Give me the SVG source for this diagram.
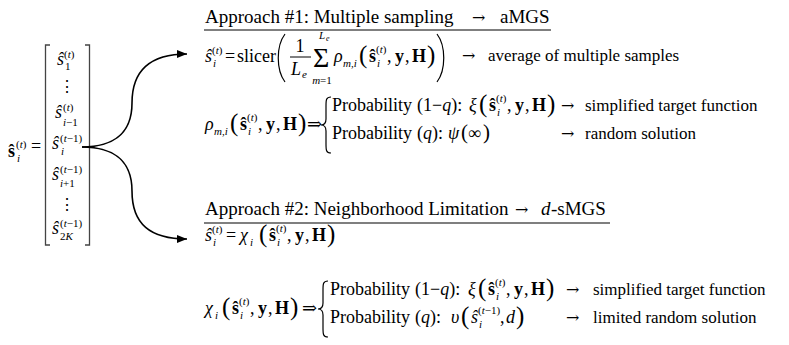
<svg xmlns="http://www.w3.org/2000/svg" width="789" height="345" viewBox="0 0 789 345">
<defs>
<style>
text{font-family:"Liberation Serif","DejaVu Serif",serif;font-size:18px;fill:#000}
.h{font-size:19px}
.d{font-size:17px}
.ar{font-family:"DejaVu Serif",serif;font-size:16px}
.sc{font-size:11px}
.sm{font-size:8px}
.p{font-size:25px}
.sig{font-size:28px}
.it{font-style:italic}
.bf{font-weight:bold}
.ln{stroke:#000;stroke-width:1.2;fill:none}
.br{stroke:#444;stroke-width:1.3;fill:none}
.cn{stroke:#000;stroke-width:1.6;fill:none}
</style>
<marker id="ah" viewBox="0 0 10 8" refX="10" refY="4" markerWidth="10" markerHeight="8" markerUnits="userSpaceOnUse" orient="auto">
<path d="M0,0 L10,4 L0,8 z" fill="#000"/>
</marker>
</defs>

<g id="vector">
<text class="bf" x="8" y="157">ŝ</text>
<text class="sc" x="16" y="148">(<tspan class="it">t</tspan>)</text>
<text class="sc it" x="17" y="162">i</text>
<text x="31" y="152">=</text>
<path class="br" d="M50,45 H45.5 V245 H50"/>
<path class="br" d="M85,45 H89.5 V245 H85"/>
<text class="it" x="57" y="65">ŝ</text>
<text class="sc" x="64" y="58">(<tspan class="it">t</tspan>)</text>
<text class="sc" x="65" y="70">1</text>
<text x="67" y="92" text-anchor="middle" style="font-size:16px">⋮</text>
<text class="it" x="55" y="118">ŝ</text>
<text class="sc" x="63" y="111">(<tspan class="it">t</tspan>)</text>
<text class="sc" x="63" y="126"><tspan class="it">i</tspan>−1</text>
<text class="it" x="52" y="149">ŝ</text>
<text class="sc" x="60" y="142">(<tspan class="it">t</tspan>−1)</text>
<text class="sc it" x="61" y="155">i</text>
<text class="it" x="52" y="180">ŝ</text>
<text class="sc" x="60" y="173">(<tspan class="it">t</tspan>−1)</text>
<text class="sc" x="60" y="187"><tspan class="it">i</tspan>+1</text>
<text x="67" y="210" text-anchor="middle" style="font-size:16px">⋮</text>
<text class="it" x="52" y="234">ŝ</text>
<text class="sc" x="60" y="227">(<tspan class="it">t</tspan>−1)</text>
<text class="sc" x="60" y="240">2<tspan class="it">K</tspan></text>
</g>

<g id="connectors">
<path class="cn" d="M82,147 C110,147 132,136 132,103 C132,70 150,54 187,54" marker-end="url(#ah)"/>
<path class="cn" d="M82,147 C110,147 132,158 132,191 C132,224 150,239 187,239" marker-end="url(#ah)"/>
</g>

<g id="approach1">
<text class="h" x="205" y="23">Approach #1: Multiple sampling</text>
<text class="ar" x="472" y="23">→</text>
<text class="h" x="500" y="23">aMGS</text>
<line class="ln" x1="204" y1="30" x2="551" y2="30"/>

<g id="eq-slicer">
<text class="it" x="205" y="62">ŝ</text>
<text class="sc" x="212" y="54">(<tspan class="it">t</tspan>)</text>
<text class="sc it" x="213" y="67">i</text>
<text x="225" y="62">=</text>
<text x="237" y="62">slicer</text>
<path class="ln" d="M285,34 C276,46 276,70 285,82"/>
<text x="300" y="52" text-anchor="middle">1</text>
<line class="ln" x1="290" y1="57" x2="311" y2="57" style="stroke-width:1"/>
<text class="it" x="291" y="75">L</text>
<text class="sc it" x="302" y="78">e</text>
<text class="sig" x="313" y="67">Σ</text>
<text class="sc it" x="319" y="39">L</text>
<text class="sm it" x="326" y="41">e</text>
<text class="sc" x="322" y="84" text-anchor="middle"><tspan class="it">m</tspan>=1</text>
<text class="it" x="334" y="62">ρ</text>
<text class="sc it" x="343" y="67">m,i</text>
<text class="p" x="359" y="63">(</text>
<text class="bf" x="369" y="62">ŝ</text>
<text class="sc" x="376" y="53">(<tspan class="it">t</tspan>)</text>
<text class="sc it" x="377" y="67">i</text>
<text x="387" y="62">,</text>
<text class="bf" x="395" y="62">y</text>
<text x="405" y="62">,</text>
<text class="bf" x="412" y="62">H</text>
<text class="p" x="427" y="63">)</text>
<path class="ln" d="M437,34 C446,46 446,70 437,82"/>
<text class="ar" x="462" y="61">→</text>
<text class="d" x="488" y="61">average of multiple samples</text>
</g>

<g id="eq-rho">
<text class="it" x="205" y="130">ρ</text>
<text class="sc it" x="214" y="135">m,i</text>
<text class="p" x="230" y="131">(</text>
<text class="bf" x="240" y="130">ŝ</text>
<text class="sc" x="247" y="121">(<tspan class="it">t</tspan>)</text>
<text class="sc it" x="248" y="135">i</text>
<text x="258" y="130">,</text>
<text class="bf" x="266" y="130">y</text>
<text x="276" y="130">,</text>
<text class="bf" x="283" y="130">H</text>
<text class="p" x="298" y="131">)</text>
<text x="307" y="130">⇒</text>
<path class="ln" d="M331,97 C326,97 326,100 326,106 L326,119 C326,123 324,125 321,125 C324,125 326,127 326,131 L326,144 C326,150 326,153 331,153"/>
<text x="332" y="111">Probability</text>
<text x="417" y="111">(1−<tspan class="it">q</tspan>):</text>
<text class="it" x="469" y="111">ξ</text>
<text class="p" x="479" y="112">(</text>
<text class="bf" x="489" y="111">ŝ</text>
<text class="sc" x="496" y="102">(<tspan class="it">t</tspan>)</text>
<text class="sc it" x="497" y="116">i</text>
<text x="507" y="111">,</text>
<text class="bf" x="515" y="111">y</text>
<text x="525" y="111">,</text>
<text class="bf" x="532" y="111">H</text>
<text class="p" x="547" y="112">)</text>
<text class="ar" x="561" y="111">→</text>
<text class="d" x="585" y="111">simplified target function</text>
<text x="332" y="139">Probability</text>
<text x="417" y="139">(<tspan class="it">q</tspan>):</text>
<text class="it" x="448" y="139">ψ</text>
<text x="461" y="139" style="font-size:21px">(</text>
<text x="468" y="139">∞</text>
<text x="483" y="139" style="font-size:21px">)</text>
<text class="ar" x="561" y="139">→</text>
<text class="d" x="585" y="139">random solution</text>
</g>
</g>

<g id="approach2">
<text class="h" x="205" y="215">Approach #2: Neighborhood Limitation</text>
<text class="ar" x="515" y="215">→</text>
<text class="h it" x="541" y="215">d</text>
<text class="h" x="551" y="215">-sMGS</text>
<line class="ln" x1="204" y1="223" x2="610" y2="223"/>

<g id="eq-chi-def">
<text class="it" x="205" y="241">ŝ</text>
<text class="sc" x="212" y="233">(<tspan class="it">t</tspan>)</text>
<text class="sc it" x="213" y="246">i</text>
<text x="226" y="241">=</text>
<text class="it" x="240" y="241">χ</text>
<text class="sc it" x="250" y="246">i</text>
<text class="p" x="259" y="242">(</text>
<text class="bf" x="269" y="241">ŝ</text>
<text class="sc" x="276" y="232">(<tspan class="it">t</tspan>)</text>
<text class="sc it" x="277" y="246">i</text>
<text x="287" y="241">,</text>
<text class="bf" x="295" y="241">y</text>
<text x="305" y="241">,</text>
<text class="bf" x="312" y="241">H</text>
<text class="p" x="327" y="242">)</text>
</g>

<g id="eq-chi">
<text class="it" x="205" y="314">χ</text>
<text class="sc it" x="215" y="319">i</text>
<text class="p" x="222" y="315">(</text>
<text class="bf" x="232" y="314">ŝ</text>
<text class="sc" x="239" y="305">(<tspan class="it">t</tspan>)</text>
<text class="sc it" x="240" y="319">i</text>
<text x="250" y="314">,</text>
<text class="bf" x="258" y="314">y</text>
<text x="268" y="314">,</text>
<text class="bf" x="275" y="314">H</text>
<text class="p" x="290" y="315">)</text>
<text x="302" y="314">⇒</text>
<path class="ln" d="M328,281 C323,281 323,284 323,290 L323,303 C323,307 321,309 318,309 C321,309 323,311 323,315 L323,328 C323,334 323,337 328,337"/>
<text x="330" y="295">Probability</text>
<text x="415" y="295">(1−<tspan class="it">q</tspan>):</text>
<text class="it" x="468" y="295">ξ</text>
<text class="p" x="478" y="296">(</text>
<text class="bf" x="488" y="295">ŝ</text>
<text class="sc" x="495" y="286">(<tspan class="it">t</tspan>)</text>
<text class="sc it" x="496" y="300">i</text>
<text x="506" y="295">,</text>
<text class="bf" x="514" y="295">y</text>
<text x="524" y="295">,</text>
<text class="bf" x="531" y="295">H</text>
<text class="p" x="546" y="296">)</text>
<text class="ar" x="566" y="295">→</text>
<text class="d" x="593" y="295">simplified target function</text>
<text x="330" y="323">Probability</text>
<text x="415" y="323">(<tspan class="it">q</tspan>):</text>
<text class="it" x="451" y="323">υ</text>
<text class="p" x="461" y="324">(</text>
<text class="it" x="471" y="323">ŝ</text>
<text class="sc" x="478" y="314">(<tspan class="it">t</tspan>−1)</text>
<text class="sc it" x="479" y="328">i</text>
<text x="500" y="323">,</text>
<text class="it" x="506" y="323">d</text>
<text class="p" x="516" y="324">)</text>
<text class="ar" x="566" y="323">→</text>
<text class="d" x="593" y="323">limited random solution</text>
</g>
</g>
</svg>
